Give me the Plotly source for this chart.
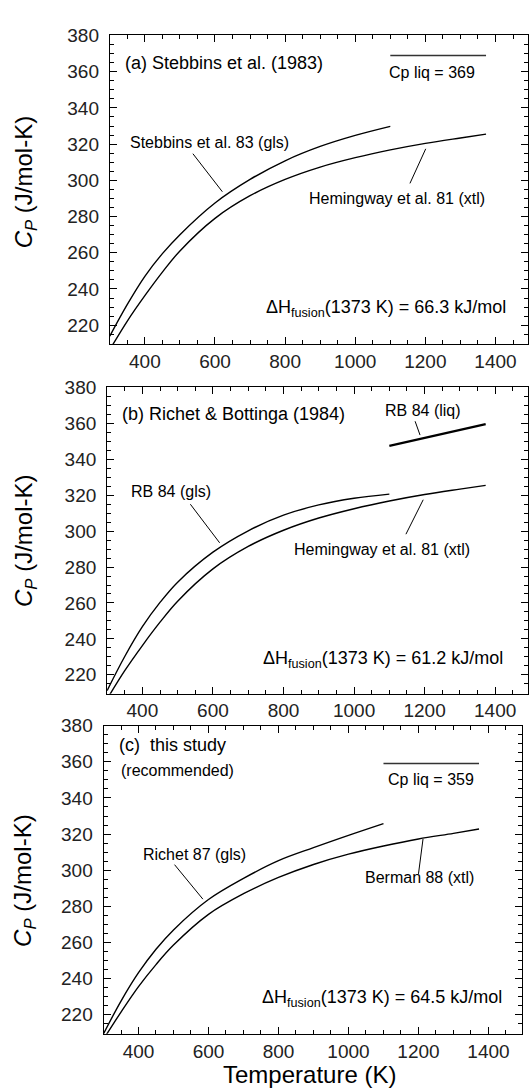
import plotly.graph_objects as go

# ---------------- data ----------------
T_gls = [300, 350, 400, 450, 500, 600, 700, 800, 900, 1000, 1100]
T_xtl = [300, 350, 400, 450, 500, 600, 700, 800, 900, 1000, 1100, 1200, 1300, 1373]

stebbins_83_gls = [214.0, 231.5, 247.0, 259.5, 270.0, 287.5, 300.5, 310.8, 318.7, 324.8, 329.8]
hemingway_81_xtl = [206.5, 222.3, 236.3, 249.3, 261.0, 279.0, 291.5, 300.5, 307.3, 312.5, 316.8, 320.4, 323.4, 325.5]
rb_84_gls = [211.2, 230.2, 246.8, 260.3, 271.6, 288.3, 300.2, 308.9, 314.6, 318.3, 320.6]
T_liq_rb = [1100, 1373]
rb_84_liq = [347.5, 359.6]
richet_87_gls = [209.5, 227.6, 243.3, 256.3, 267.0, 283.8, 295.5, 305.3, 312.5, 319.3, 325.8]
berman_88_xtl = [206.5, 221.5, 235.6, 247.8, 258.6, 275.6, 287.0, 296.0, 303.2, 308.9, 313.4, 317.3, 320.4, 322.8]

T_liq = [1100, 1373]
cp_liq_a = 369
cp_liq_c = 359
dH_a = 66.3
dH_b = 61.2
dH_c = 64.5

FONT = "Liberation Sans, Arial, Helvetica, sans-serif"
W, H = 529, 1088

fig = go.Figure()

def curve(x, y, ax, width=1.4):
    fig.add_trace(go.Scatter(x=x, y=y, mode="lines",
                             line=dict(color="black", width=width, shape="spline", smoothing=1.0),
                             xaxis=ax[0], yaxis=ax[1], showlegend=False, hoverinfo="skip"))

def seg(x0, y0, x1, y1, ax, width=1.0, color="black"):
    fig.add_trace(go.Scatter(x=[x0, x1], y=[y0, y1], mode="lines", line=dict(color=color, width=width),
                             xaxis=ax[0], yaxis=ax[1], showlegend=False, hoverinfo="skip"))

A = ("x", "y"); B = ("x2", "y2"); C = ("x3", "y3")

# panel a
curve(T_gls, stebbins_83_gls, A)
curve(T_xtl, hemingway_81_xtl, A)
fig.add_trace(go.Scatter(x=T_liq, y=[cp_liq_a, cp_liq_a], mode="lines", line=dict(color="#333", width=1.5),
                         xaxis="x", yaxis="y", showlegend=False, hoverinfo="skip"))
seg(537, 314.7, 621, 293.7, A)
seg(1201, 317.4, 1156, 298.3, A)

# panel b
curve(T_gls, rb_84_gls, B)
curve(T_xtl, hemingway_81_xtl, B)
fig.add_trace(go.Scatter(x=T_liq_rb, y=rb_84_liq, mode="lines", line=dict(color="black", width=2.2),
                         xaxis="x2", yaxis="y2", showlegend=False, hoverinfo="skip"))
seg(536, 315, 619, 293.5, B)
seg(1196, 317.5, 1147, 298.3, B)
seg(1173, 361.2, 1187, 353.5, B)

# panel c
curve(T_gls, richet_87_gls, C)
curve(T_xtl, berman_88_xtl, C)
fig.add_trace(go.Scatter(x=T_liq, y=[cp_liq_c, cp_liq_c], mode="lines", line=dict(color="#333", width=1.5),
                         xaxis="x3", yaxis="y3", showlegend=False, hoverinfo="skip"))
seg(503, 303.1, 584, 284, C)
seg(1213, 317.3, 1200, 298, C)

def ann(text, x, y, ax, size=16, xanchor="center"):
    fig.add_annotation(text=text, x=x, y=y, xref=ax[0], yref=ax[1], showarrow=False,
                       xanchor=xanchor, yanchor="middle", font=dict(size=size, color="black", family=FONT))

def dh(val):
    return "ΔH<sub>fusion</sub>(1373 K) = %.1f kJ/mol" % val

ann("(a) Stebbins et al. (1983)", 337, 365, A, 18, "left")
ann("Stebbins et al. 83 (gls)", 351, 320.7, A, 16, "left")
ann("Hemingway et al. 81 (xtl)", 1120, 290, A, 16)
ann("Cp liq = %d" % cp_liq_a, 1220, 359.4, A, 16)
ann(dh(dH_a), 741, 229, A, 18, "left")

ann("(b) Richet &amp; Bottinga (1984)", 336, 365, B, 18, "left")
ann("RB 84 (gls)", 480, 322.2, B, 16)
ann("RB 84 (liq)", 1194, 367, B, 16)
ann("Hemingway et al. 81 (xtl)", 1079, 289.8, B, 16)
ann(dh(dH_b), 737, 228.5, B, 18, "left")

ann("(c)\u00a0 this study", 339, 369.3, C, 18, "left")
ann("(recommended)", 344, 355, C, 16, "left")
ann("Cp liq = %d" % cp_liq_c, 1235, 350.3, C, 16)
ann("Richet 87 (gls)", 560, 308.9, C, 16)
ann("Berman 88 (xtl)", 1204, 295.9, C, 16)
ann(dh(dH_c), 746, 229, C, 18, "left")

# axis titles as annotations
for yc in [(H - 173) / H, (H - 535) / H, (H - 878) / H]:
    fig.add_annotation(text="<i>C<sub>P</sub></i> (J/mol-K)", x=25 / W, y=yc, xref="paper", yref="paper",
                       showarrow=False, textangle=-90, xanchor="center", yanchor="middle",
                       font=dict(size=24, color="black", family=FONT))
fig.add_annotation(text="Temperature (K)", x=310 / W, y=(H - 1074) / H, xref="paper", yref="paper",
                   showarrow=False, xanchor="center", yanchor="middle", font=dict(size=24, color="black", family=FONT))

def xax(dom, rng, anchor):
    return dict(domain=dom, range=rng, anchor=anchor, showgrid=False, zeroline=False,
                showline=True, linecolor="black", linewidth=1, mirror="ticks",
                ticks="inside", ticklen=7, tickcolor="black", tickwidth=1,
                tick0=0, dtick=200, tickfont=dict(size=19, color="#222", family=FONT),
                ticklabelstandoff=0,
                minor=dict(dtick=50, ticks="inside", ticklen=4, tickcolor="black", tickwidth=1, showgrid=False))

def yax(dom, anchor):
    return dict(domain=dom, range=[209.5, 380], anchor=anchor, showgrid=False, zeroline=False,
                showline=True, linecolor="black", linewidth=1, mirror="ticks",
                ticks="inside", ticklen=7, tickcolor="black", tickwidth=1,
                tick0=0, dtick=20, tickfont=dict(size=19, color="#222", family=FONT),
                ticklabelstandoff=6,
                minor=dict(dtick=5, ticks="inside", ticklen=4, tickcolor="black", tickwidth=1, showgrid=False))

fig.update_layout(
    width=W, height=H, margin=dict(l=0, r=0, t=0, b=0),
    paper_bgcolor="white", plot_bgcolor="white",
    font=dict(family=FONT, color="black"),
    xaxis=xax([110 / W, 1.0], [300, 1492.7], "y"),
    yaxis=yax([(H - 337.3) / H, (H - 25.7) / H], "x"),
    xaxis2=xax([107.3 / W, 1.0], [300, 1493], "y2"),
    yaxis2=yax([(H - 690) / H, (H - 381) / H], "x2"),
    xaxis3=xax([103.7 / W, 522.7 / W], [300, 1495], "y3"),
    yaxis3=yax([(H - 1033.3) / H, (H - 722.3) / H], "x3"),
)

fig.write_html("out.html")
